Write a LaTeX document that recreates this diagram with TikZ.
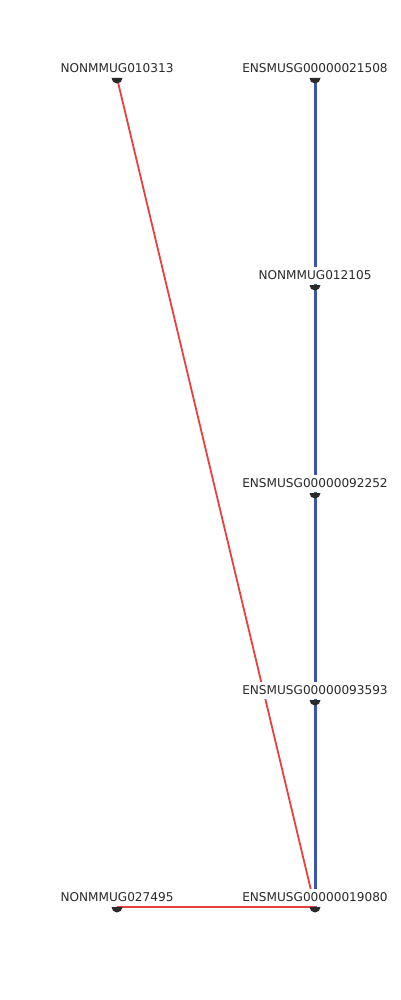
\documentclass[tikz,border=0pt]{standalone}
\usepackage{fontspec}
\setmainfont{DejaVu Sans}
\usetikzlibrary{calc}
\definecolor{redline}{RGB}{232,64,64}
\definecolor{blueline}{RGB}{58,84,178}
\definecolor{mkcol}{RGB}{42,42,42}
\definecolor{txt}{RGB}{42,42,42}
\tikzset{
  rededge/.style={draw=redline,line width=1.8pt},
  blueedge/.style={draw=blueline,line width=3pt},
  lbl/.style={fill=white,inner xsep=1pt,inner ysep=3.5pt,text=txt,font=\fontsize{12.1}{13}\selectfont},
  mk/.style={fill=mkcol}
}
\begin{document}
\begin{tikzpicture}[x=1pt,y=1pt]
\useasboundingbox (0,0) rectangle (400,-1000);
\coordinate (nA) at (117,-78);
\coordinate (nB) at (315,-78);
\coordinate (nC) at (315,-285);
\coordinate (nD) at (315,-493);
\coordinate (nE) at (315,-700);
\coordinate (nF) at (117,-907);
\coordinate (nG) at (315,-907);
% edges
\draw[blueedge] (nB) -- (nC);
\draw[blueedge] (nC) -- (nD);
\draw[blueedge] (nD) -- (nE);
\draw[blueedge] (nE) -- (nG);
\draw[rededge] (nA) -- (nG);
\draw[rededge] (nF) -- (nG);
% labels
\node[lbl] (lA) at ($(nA)+(0,9.5)$) {NONMMUG010313};
\node[lbl] (lB) at ($(nB)+(0,9.5)$) {ENSMUSG00000021508};
\node[lbl] (lC) at ($(nC)+(0,9.5)$) {NONMMUG012105};
\node[lbl] (lD) at ($(nD)+(0,9.5)$) {ENSMUSG00000092252};
\node[lbl] (lE) at ($(nE)+(0,9.5)$) {ENSMUSG00000093593};
\node[lbl] (lF) at ($(nF)+(0,9.5)$) {NONMMUG027495};
\node[lbl] (lG) at ($(nG)+(0,9.5)$) {ENSMUSG00000019080};
% markers
\foreach \n in {nA,nB,nC,nD,nE,nF,nG}{
  \fill[mk] ($(\n)+(-5.5,0)$) arc[start angle=180,end angle=360,radius=5.5] -- cycle;
}
\end{tikzpicture}
\end{document}
